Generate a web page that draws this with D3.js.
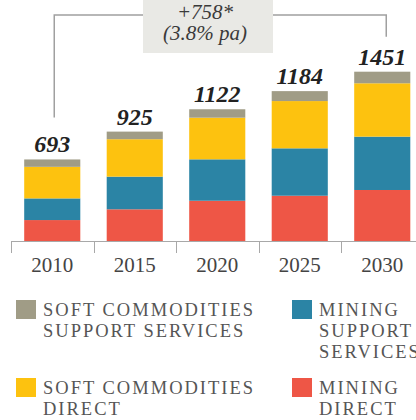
<!DOCTYPE html>
<html>
<head>
<meta charset="utf-8">
<script src="https://cdn.jsdelivr.net/npm/d3@7"></script>
<style>
  body { margin: 0; background: #fff; }
  svg { display: block; }
</style>
</head>
<body>
<svg id="chart" width="416" height="420"></svg>
<script>
// data
const years = ["2010", "2015", "2020", "2025", "2030"];
const totals = ["693", "925", "1122", "1184", "1451"];
const miningDirect = [179, 271, 344, 387, 436];
const miningSupport = [185, 279, 354, 405, 456];
const softDirect = [270, 320, 356, 404, 456];
const softSupport = [63, 65, 72, 85, 99];
const seriesNames = ["miningDirect", "miningSupport", "softDirect", "softSupport"];
const growthLabel = ["+758*", "(3.8% pa)"];

const colors = {
  miningDirect: "#ee5646",
  miningSupport: "#2b84a5",
  softDirect: "#fdc20f",
  softSupport: "#a09c86"
};

const rows = years.map((y, i) => ({
  year: y,
  miningDirect: miningDirect[i],
  miningSupport: miningSupport[i],
  softDirect: softDirect[i],
  softSupport: softSupport[i]
}));

const svg = d3.select("#chart");
const serif = "Liberation Serif, Times New Roman, serif";

// scales
const x = d3.scaleBand().domain(years).range([11, 423.5]).paddingInner(0.32).paddingOuter(0.16);
const y = d3.scaleLinear().domain([0, 1500]).range([241, 65.5]);

const stacked = d3.stack().keys(seriesNames)(rows);

// bars
svg.append("g").selectAll("g.layer").data(stacked).join("g")
  .attr("class", "layer")
  .attr("fill", d => colors[d.key])
  .selectAll("rect").data(d => d).join("rect")
  .attr("x", d => x(d.data.year))
  .attr("width", x.bandwidth())
  .attr("y", d => y(d[1]))
  .attr("height", d => y(d[0]) - y(d[1]));

// x axis: line + ticks at band starts
const step = x.step();
const bandStart = d => Math.round(x(d) - x.paddingOuter() * step) + 0.5;
const axisG = svg.append("g");
axisG.append("line")
  .attr("x1", bandStart(years[0])).attr("x2", 416)
  .attr("y1", 241.5).attr("y2", 241.5)
  .attr("stroke", "#a8a8a8").attr("stroke-width", 1);
axisG.selectAll("line.tick").data(years).join("line")
  .attr("class", "tick")
  .attr("x1", bandStart).attr("x2", bandStart)
  .attr("y1", 241).attr("y2", 253)
  .attr("stroke", "#a8a8a8").attr("stroke-width", 1);
axisG.selectAll("text").data(years).join("text")
  .attr("x", d => x(d) + x.bandwidth() / 2)
  .attr("y", 272)
  .attr("text-anchor", "middle")
  .attr("font-family", serif)
  .attr("font-size", 21)
  .attr("fill", "#444")
  .text(d => d);

// total labels
const barTop = rows.map(r => y(seriesNames.reduce((s, k) => s + r[k], 0)));
svg.selectAll("text.total").data(years).join("text")
  .attr("class", "total")
  .attr("x", d => x(d) + x.bandwidth() / 2)
  .attr("y", (d, i) => barTop[i] - 7)
  .attr("text-anchor", "middle")
  .attr("font-family", serif)
  .attr("font-weight", "bold")
  .attr("font-style", "italic")
  .attr("font-size", 24)
  .attr("fill", "#222")
  .text((d, i) => totals[i]);

// growth bracket
const xl = x(years[0]) + x.bandwidth() / 2 + 2;
const xr = x(years[years.length - 1]) + x.bandwidth() / 2 + 4;
const yb = 15;
const boxL = 143, boxR = 273;
const br = svg.append("g").attr("fill", "none").attr("stroke", "#a0a0a0").attr("stroke-width", 1.5);
br.append("path").attr("d", `M${xl},${barTop[0] - 42} V${yb} H${boxL}`);
br.append("path").attr("d", `M${boxR},${yb} H${xr} V${barTop[years.length - 1] - 35}`);

svg.append("rect")
  .attr("x", boxL).attr("y", 0).attr("width", boxR - boxL).attr("height", 53)
  .attr("fill", "#e9e9e5");
svg.selectAll("text.growth").data(growthLabel).join("text")
  .attr("class", "growth")
  .attr("x", 205)
  .attr("y", (d, i) => 19 + i * 21)
  .attr("text-anchor", "middle")
  .attr("font-family", serif)
  .attr("font-style", "italic")
  .attr("font-size", 21)
  .attr("fill", "#3a3a3a")
  .text(d => d);

// legend
const legendItems = [
  { key: "softSupport", lines: ["SOFT COMMODITIES", "SUPPORT SERVICES"], x: 16, y: 300 },
  { key: "miningSupport", lines: ["MINING", "SUPPORT", "SERVICES"], x: 292, y: 300 },
  { key: "softDirect", lines: ["SOFT COMMODITIES", "DIRECT"], x: 16, y: 378 },
  { key: "miningDirect", lines: ["MINING", "DIRECT"], x: 292, y: 378 }
];
const lg = svg.selectAll("g.legend").data(legendItems).join("g")
  .attr("class", "legend")
  .attr("transform", d => `translate(${d.x},${d.y})`);
lg.append("rect").attr("width", 20).attr("height", 19).attr("fill", d => colors[d.key]);
lg.append("text")
  .attr("font-family", serif)
  .attr("font-size", 18.5)
  .attr("letter-spacing", 2)
  .attr("fill", "#555")
  .selectAll("tspan").data(d => d.lines).join("tspan")
  .attr("x", 27)
  .attr("y", (d, i) => 16 + i * 21)
  .text(d => d);
</script>
</body>
</html>
